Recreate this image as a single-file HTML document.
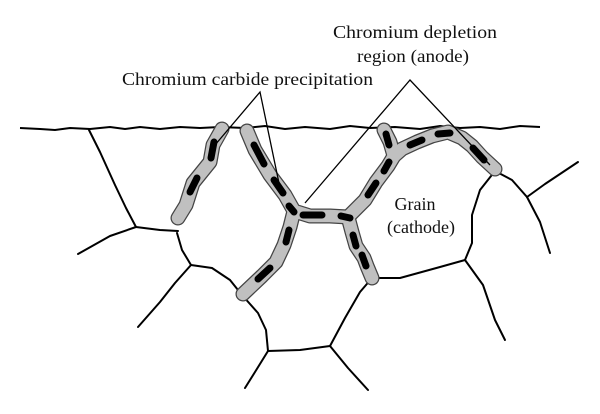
<!DOCTYPE html>
<html><head><style>
html,body{margin:0;padding:0;background:#fff;}
svg{display:block;}
text{font-family:"Liberation Serif",serif;font-size:18px;fill:#111;}
</style></head><body>
<svg width="600" height="414" viewBox="0 0 600 414" xmlns="http://www.w3.org/2000/svg">
<polyline fill="none" stroke="#000" stroke-width="2" points="20,128 40,129 55,130 70,128 90,129 110,127 125,129 140,127 160,129 180,127 200,128 220,127 245,128 265,126 285,129 305,127 330,129 350,126 370,128 395,127 420,129 440,126 460,128 480,127 500,129 520,126 540,127"/>
<g fill="none" stroke="#000" stroke-width="2" stroke-linejoin="round" stroke-linecap="round">
<polyline points="89,130 100,152 115,185 126,208 136,227"/>
<polyline points="136,227 110,236 78,254"/>
<polyline points="136,227 160,230 178,231"/>
<polyline points="177,233 182,250 191,265"/>
<polyline points="191,265 175,283 160,302 138,327"/>
<polyline points="191,265 212,268 230,280 242,295"/>
<polyline points="242,295 258,313 266,330 268,351"/>
<polyline points="268,351 255,372 245,388"/>
<polyline points="268,351 300,350 330,346"/>
<polyline points="330,346 348,368 368,390"/>
<polyline points="330,346 345,318 360,292 372,278"/>
<polyline points="372,278 400,278 440,267 465,260"/>
<polyline points="465,260 472,243 472,215 480,190 495,171"/>
<polyline points="465,260 483,285 495,320 505,340"/>
<polyline points="495,171 512,180 527,197"/>
<polyline points="527,197 545,184 578,162"/>
<polyline points="527,197 540,222 550,253"/>
</g>
<g fill="none" stroke-linejoin="round" stroke-linecap="round">
<g stroke="#444" stroke-width="15">
<polyline points="222,129 213,145 210,162 193,183 186,205 178,218"/>
<polyline points="247,131 255,150 270,175 285,195 294,211 310,216 330,216 348,217 365,200 376,182 388,166 394,156 390,142 384,130"/>
<polyline points="294,211 290,227 284,245 276,262 262,276 243,294"/>
<polyline points="394,156 402,149 417,142 432,136 448,132 462,138 472,146 482,157 495,169"/>
<polyline points="348,217 352,232 356,246 364,258 367,266 372,278"/>
</g>
<g stroke="#c0c0c0" stroke-width="12.5">
<polyline points="222,129 213,145 210,162 193,183 186,205 178,218"/>
<polyline points="247,131 255,150 270,175 285,195 294,211 310,216 330,216 348,217 365,200 376,182 388,166 394,156 390,142 384,130"/>
<polyline points="294,211 290,227 284,245 276,262 262,276 243,294"/>
<polyline points="394,156 402,149 417,142 432,136 448,132 462,138 472,146 482,157 495,169"/>
<polyline points="348,217 352,232 356,246 364,258 367,266 372,278"/>
</g>
<g stroke="#000" stroke-width="7">
<line x1="214" y1="142" x2="211" y2="158"/>
<line x1="197" y1="178" x2="190" y2="192"/>
<line x1="254" y1="145" x2="264" y2="164"/>
<line x1="274" y1="180" x2="283" y2="193"/>
<line x1="289" y1="206" x2="294" y2="212"/>
<line x1="303" y1="215" x2="322" y2="215"/>
<line x1="341" y1="216" x2="350" y2="218"/>
<line x1="368" y1="195" x2="376" y2="183"/>
<line x1="384" y1="171" x2="389" y2="162"/>
<line x1="389" y1="145" x2="386" y2="134"/>
<line x1="410" y1="145" x2="422" y2="140"/>
<line x1="438" y1="134" x2="450" y2="133"/>
<line x1="473" y1="148" x2="484" y2="160"/>
<line x1="289" y1="230" x2="286" y2="242"/>
<line x1="270" y1="268" x2="258" y2="279"/>
<line x1="353" y1="235" x2="356" y2="246"/>
<line x1="362" y1="255" x2="366" y2="266"/>
</g>
</g>
<g stroke="#000" stroke-width="1.3" fill="none">
<polyline points="215,145 260,92 280,188"/>
<polyline points="305,203 410,80 490,165"/>
</g>
<text x="122" y="85" textLength="251" lengthAdjust="spacingAndGlyphs">Chromium carbide precipitation</text>
<text x="333" y="38" textLength="164" lengthAdjust="spacingAndGlyphs">Chromium depletion</text>
<text x="357" y="62" textLength="112" lengthAdjust="spacingAndGlyphs">region (anode)</text>
<text x="415" y="210" text-anchor="middle">Grain</text>
<text x="421" y="233" text-anchor="middle">(cathode)</text>
</svg>
</body></html>
